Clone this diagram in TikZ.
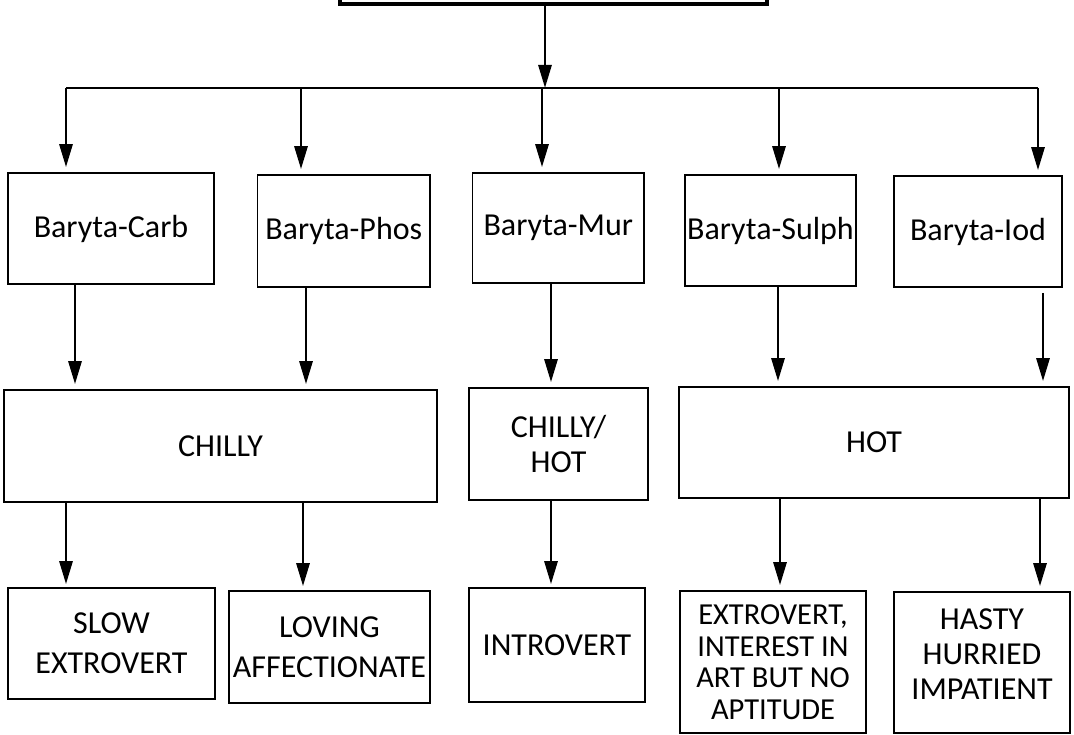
\documentclass[tikz,border=0pt]{standalone}
\usepackage{fontspec}
\setmainfont{Carlito}
\usetikzlibrary{arrows.meta}
\begin{document}
\begin{tikzpicture}[x=1pt,y=-1pt,
  box/.style={draw, line width=1.6pt, inner sep=0pt, align=center, font=\fontsize{32}{37}\selectfont},
  arr/.style={line width=2.8pt, -{Triangle[length=23pt,width=13pt]}},
  busline/.style={line width=2.8pt},
]
\useasboundingbox (0,0) rectangle (1074,735);
\clip (0,0) rectangle (1074,735);

% top box (only its lower edge is visible)
\node[box, line width=4pt, minimum width=427pt, minimum height=65pt] (top) at (553.5,-28.5) {};

% row 1
\node[box, minimum width=206pt, minimum height=111pt] (carb) at (111,228.5) {Baryta-Carb};
\node[box, minimum width=172.5pt, minimum height=112pt] (phos) at (343.75,231) {Baryta-Phos};
\node[box, minimum width=171.4pt, minimum height=110pt] (mur) at (558.3,228) {Baryta-Mur};
\node[box, minimum width=171pt, minimum height=111pt] (sulph) at (770.5,230.5) {Baryta-Sulph};
\node[box, minimum width=168pt, minimum height=111pt] (iod) at (978,231.5) {Baryta-Iod};

% row 2
\node[box, minimum width=433pt, minimum height=112pt] (chilly) at (220.5,446) {CHILLY};
\node[box, minimum width=179pt, minimum height=112pt, font=\fontsize{32}{35}\selectfont] (chot) at (558.5,444) {CHILLY/\\HOT};
\node[box, minimum width=390pt, minimum height=111pt] (hot) at (874,442.5) {HOT};

% row 3
\node[box, minimum width=207pt, minimum height=111pt, font=\fontsize{32}{40}\selectfont] (slow) at (111.5,643.5) {SLOW\\EXTROVERT};
\node[box, minimum width=201pt, minimum height=112pt, font=\fontsize{32}{40}\selectfont] (loving) at (329.5,647) {LOVING\\AFFECTIONATE};
\node[box, minimum width=176pt, minimum height=114pt] (intro) at (557,645) {INTROVERT};
\node[box, minimum width=186pt, minimum height=142pt, font=\fontsize{30.5}{31.5}\selectfont] (extro) at (773,662) {EXTROVERT,\\INTEREST IN\\ART BUT NO\\APTITUDE};
\node[box, minimum width=176pt, minimum height=141pt, font=\fontsize{32}{35}\selectfont, text depth=16pt] (hasty) at (982,662.5) {HASTY\\HURRIED\\IMPATIENT};

% bus
\coordinate (b0) at (545,88);
\coordinate (b1) at (66,88);
\coordinate (b2) at (301,88);
\coordinate (b3) at (542,88);
\coordinate (b4) at (779,88);
\coordinate (b5) at (1038,88);
\draw[arr] (top.south -| b0) -- (b0);
\draw[busline] (b1) -- (b5);
\draw[arr, shorten >=5pt] (b1) -- (carb.north -| b1);
\draw[arr, shorten >=5pt] (b2) -- (phos.north -| b2);
\draw[arr, shorten >=5pt] (b3) -- (mur.north -| b3);
\draw[arr, shorten >=5pt] (b4) -- (sulph.north -| b4);
\draw[arr, shorten >=5pt] (b5) -- (iod.north -| b5);

% row 1 -> row 2
\coordinate (p1) at (75,0);
\coordinate (p2) at (306,0);
\coordinate (p3) at (551,0);
\coordinate (p4) at (778,0);
\coordinate (p5) at (1043,0);
\draw[arr, shorten >=5pt] (carb.south -| p1) -- (chilly.north -| p1);
\draw[arr, shorten >=5pt] (phos.south -| p2) -- (chilly.north -| p2);
\draw[arr, shorten >=5pt] (mur.south -| p3) -- (chot.north -| p3);
\draw[arr, shorten >=5pt] (sulph.south -| p4) -- (hot.north -| p4);
\draw[arr, shorten >=5pt, shorten <=5pt] (iod.south -| p5) -- (hot.north -| p5);

% row 2 -> row 3
\coordinate (q1) at (66,0);
\coordinate (q2) at (303,0);
\coordinate (q3) at (551,0);
\coordinate (q4) at (780,0);
\coordinate (q5) at (1040,0);
\draw[arr, shorten >=3pt] (chilly.south -| q1) -- (slow.north -| q1);
\draw[arr, shorten >=4pt] (chilly.south -| q2) -- (loving.north -| q2);
\draw[arr, shorten >=3pt] (chot.south -| q3) -- (intro.north -| q3);
\draw[arr, shorten >=5pt] (hot.south -| q4) -- (extro.north -| q4);
\draw[arr, shorten >=5pt] (hot.south -| q5) -- (hasty.north -| q5);
\end{tikzpicture}
\end{document}
